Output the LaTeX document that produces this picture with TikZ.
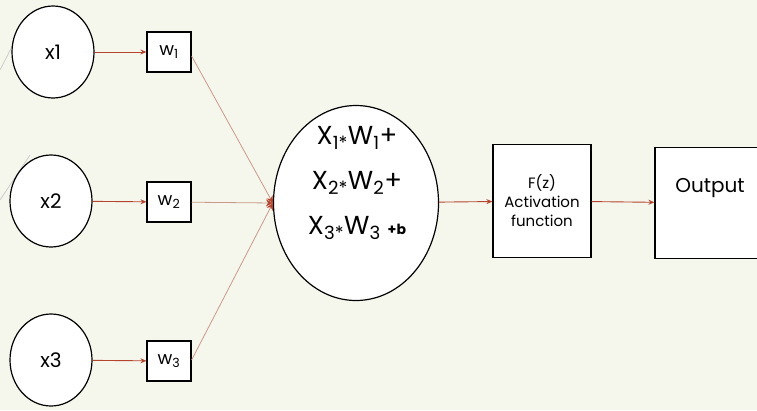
\documentclass[tikz,border=0pt]{standalone}
\usepackage{fontspec}
\setmainfont{Poppins}
\usetikzlibrary{shapes.geometric,arrows.meta}
\definecolor{bgcream}{HTML}{F6F7EC}
\definecolor{linkred}{HTML}{B4442E}
\definecolor{linkpink}{HTML}{C99A8C}
\begin{document}
\begin{tikzpicture}[x=1pt, y=-1pt,
  inp/.style={draw, line width=1.2pt, ellipse, fill=white, minimum width=82pt, minimum height=92pt, font=\fontsize{20}{24}\selectfont},
  wbox/.style={draw, line width=1.2pt, fill=white, minimum width=44pt, minimum height=40pt, font=\fontsize{18}{20}\selectfont},
  blk/.style={draw, line width=1.2pt, fill=white},
  feed/.style={draw=linkred, line width=0.9pt, -{Stealth[length=6pt,width=5pt]}},
  tosum/.style={draw=linkpink, line width=0.8pt, -{Stealth[length=7pt,width=7pt,color=linkred]}}]
\useasboundingbox (0,0) rectangle (757,410);
\fill[bgcream] (0,0) rectangle (757,410);
% faint slide lines on the left
\draw[gray!40, line width=0.8pt] (0,70) -- (18,35);
\draw[gray!40, line width=0.8pt] (0,200) -- (30,155);
% inputs
\node[inp] (x1) at (53,52) {x1};
\node[inp] (x2) at (51,201) {x2};
\node[inp] (x3) at (51,360) {x3};
% weights
\node[wbox] (w1) at (169,52) {w\textsubscript{1}};
\node[wbox] (w2) at (169,202) {w\textsubscript{2}};
\node[wbox] (w3) at (169,361) {w\textsubscript{3}};
\draw[feed] (x1) -- (w1);
\draw[feed] (x2) -- (w2);
\draw[feed] (x3) -- (w3);
% summation
\node[draw, line width=1.2pt, ellipse, fill=white, minimum width=165pt, minimum height=195pt] (sum) at (356,203) {};
\node[align=center, font=\fontsize{26}{45}\selectfont] (sumtext) at (357,183)
  {X\textsubscript{1*}W\textsubscript{1}+\\
   X\textsubscript{2*}W\textsubscript{2}+\\
   X\textsubscript{3*}W\textsubscript{3} {\fontsize{14}{14}\selectfont\textbf{+b}}};
\draw[tosum] (w1.east) ++(0,4) -- (sum.west);
\draw[tosum] (w2) -- (sum.west);
\draw[tosum] (w3.east) ++(0,-1) -- (sum.west);
% activation and output
\node[blk, minimum width=98pt, minimum height=113pt, align=center, font=\fontsize{15}{19}\selectfont] (act) at (542,201) {F(z)\\Activation\\function};
\node[blk, minimum width=120pt, minimum height=111pt] (out) at (715,203) {};
\node[font=\fontsize{20}{24}\selectfont] (outtext) at (710,188) {Output};
\draw[feed] (sum) -- (act);
\draw[feed] (act) -- (out);
\end{tikzpicture}
\end{document}
